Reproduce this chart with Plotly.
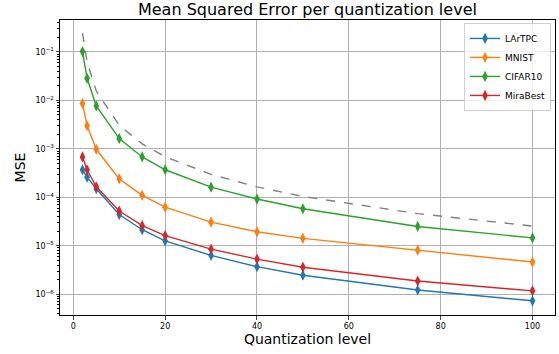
import plotly.graph_objects as go

quant_levels = [2, 3, 5, 10, 15, 20, 30, 40, 50, 75, 100]
lartpc = [3.7e-4, 2.6e-4, 1.5e-4, 4.4e-5, 2.14e-5, 1.26e-5, 6.3e-6, 3.7e-6, 2.46e-6, 1.22e-6, 7.3e-7]
mnist = [8.6e-3, 3.0e-3, 9.8e-4, 2.4e-4, 1.1e-4, 6.25e-5, 3.07e-5, 1.94e-5, 1.42e-5, 8.1e-6, 4.6e-6]
cifar10 = [1.02e-1, 2.86e-2, 7.7e-3, 1.63e-3, 6.8e-4, 3.7e-4, 1.62e-4, 9.2e-5, 5.8e-5, 2.5e-5, 1.45e-5]
mirabest = [6.8e-4, 3.7e-4, 1.65e-4, 5.2e-5, 2.6e-5, 1.62e-5, 8.5e-6, 5.3e-6, 3.6e-6, 1.87e-6, 1.17e-6]
reference = [0.245, 0.062, 0.0156, 3.05e-3, 1.27e-3, 6.9e-4, 2.97e-4, 1.64e-4, 1.04e-4, 4.6e-5, 2.55e-5]

series_names = ["LArTPC", "MNIST", "CIFAR10", "MiraBest"]
series_values = [lartpc, mnist, cifar10, mirabest]
series_colors = ["#1f77b4", "#ff7f0e", "#2ca02c", "#d62728"]

ytick_vals = [1e-6, 1e-5, 1e-4, 1e-3, 1e-2, 1e-1]
ytick_text = ["10<sup>−6</sup>", "10<sup>−5</sup>", "10<sup>−4</sup>", "10<sup>−3</sup>", "10<sup>−2</sup>", "10<sup>−1</sup>"]
xtick_vals = [0, 20, 40, 60, 80, 100]

fig = go.Figure()
for name, vals, col in zip(series_names, series_values, series_colors):
    fig.add_trace(go.Scatter(
        x=quant_levels, y=vals, mode="lines+markers", name=name,
        line=dict(color=col, width=1.4),
        marker=dict(symbol="diamond-tall", size=8, color=col),
    ))
fig.add_trace(go.Scatter(
    x=quant_levels, y=reference, mode="lines", showlegend=False,
    line=dict(color="grey", width=1.4, dash="dash"),
))

font = "DejaVu Sans, sans-serif"
fig.update_layout(
    width=559, height=354,
    margin=dict(l=60, r=4, t=20, b=39),
    paper_bgcolor="white", plot_bgcolor="white",
    font=dict(family=font, color="black"),
    title=dict(text="Mean Squared Error per quantization level", x=0.55, xanchor="center",
               y=0.974, yanchor="middle", font=dict(size=16)),
    showlegend=True,
    legend=dict(x=0.992, y=0.99, xanchor="right", yanchor="top",
                bordercolor="#d0d0d0", borderwidth=1, bgcolor="rgba(255,255,255,0.8)",
                font=dict(size=9), tracegroupgap=0, itemwidth=30),
)
fig.update_xaxes(
    range=[-2.9, 104.9], tickvals=xtick_vals, ticks="outside", ticklen=3.5,
    tickfont=dict(size=8), showgrid=True, gridcolor="#b0b0b0", gridwidth=0.8,
    showline=True, linecolor="black", linewidth=1, mirror=True, zeroline=False,
    title=dict(text="Quantization level", font=dict(size=14), standoff=2),
)
fig.update_yaxes(
    type="log", range=[-6.43, -0.34], tickvals=ytick_vals, ticktext=ytick_text,
    ticks="outside", ticklen=3.5, tickfont=dict(size=8),
    showgrid=True, gridcolor="#b0b0b0", gridwidth=0.8,
    showline=True, linecolor="black", linewidth=1, mirror=True, zeroline=False,
    minor=dict(ticks="outside", ticklen=2, dtick="D1", showgrid=False, tickcolor="black"),
    title=dict(text="MSE", font=dict(size=14), standoff=6),
)
fig.write_html("out.html")
